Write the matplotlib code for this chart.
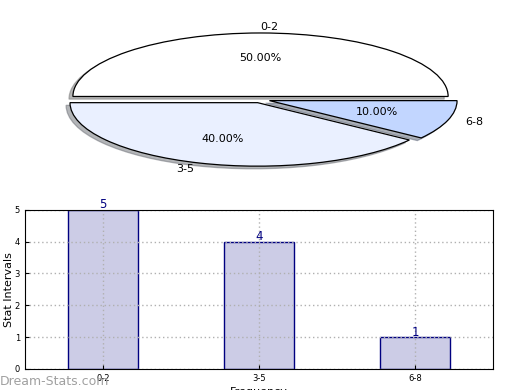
import numpy as np
import matplotlib
matplotlib.use('Agg')
from matplotlib import pyplot as plt

# data
intervals = ['0-2', '3-5', '6-8']
freqs = [5, 4, 1]
pie_colors = ['#ffffff', '#eaf0ff', '#c2d6ff']
explode = [0.05, 0.05, 0.05]

fig = plt.figure(figsize=(5.2, 3.9), dpi=100)

# pie on top (squashed, not equal aspect)
ax1 = fig.add_axes([0.05, 0.541, 0.902, 0.407])
wedges, texts, autotexts = ax1.pie(
    freqs, labels=intervals, colors=pie_colors, explode=explode,
    autopct='%1.2f%%', shadow={'ox': -0.015, 'oy': -0.03, 'shade': 0.55},
    startangle=0, counterclock=True,
    wedgeprops={'edgecolor': 'black', 'linewidth': 0.9},
    textprops={'fontsize': 8})
texts[0].set_horizontalalignment('left')
ax1.set_aspect('auto')
ax1.set_xlim(-1.25, 1.25)
ax1.set_ylim(-1.25, 1.25)

# bar chart below
ax2 = fig.add_axes([0.048, 0.054, 0.9, 0.408])
x = np.arange(len(intervals))
ax2.bar(x, freqs, width=0.45, color='#ccccE6', edgecolor='#000080', linewidth=1)
for xi, f in zip(x, freqs):
    ax2.text(xi, f - 0.05, str(f), ha='center', va='bottom', color='#000080', fontsize=8.5)
ax2.set_xlim(-0.5, 2.5)
ax2.set_ylim(0, 5)
ax2.set_xticks(x)
ax2.set_xticklabels(intervals, fontsize=6)
ax2.set_yticks(range(0, 6))
ax2.tick_params(axis='y', labelsize=6, direction='in', length=3)
ax2.tick_params(axis='x', direction='in', length=3)
ax2.grid(True, linestyle=(0, (1, 2)), color='#b0b0b0', linewidth=1)
ax2.set_axisbelow(False)
for sp in ax2.spines.values():
    sp.set_zorder(3)
ax2.set_ylabel('Stat Intervals', fontsize=8)
ax2.yaxis.set_label_coords(-0.023, 0.5)
ax2.set_xlabel('Frequency', fontsize=8, labelpad=3)

fig.text(0.0, 0.005, 'Dream-Stats.com', fontsize=9, color='#a0a0a0', ha='left', va='bottom')

fig.savefig('out.png', dpi=100)
